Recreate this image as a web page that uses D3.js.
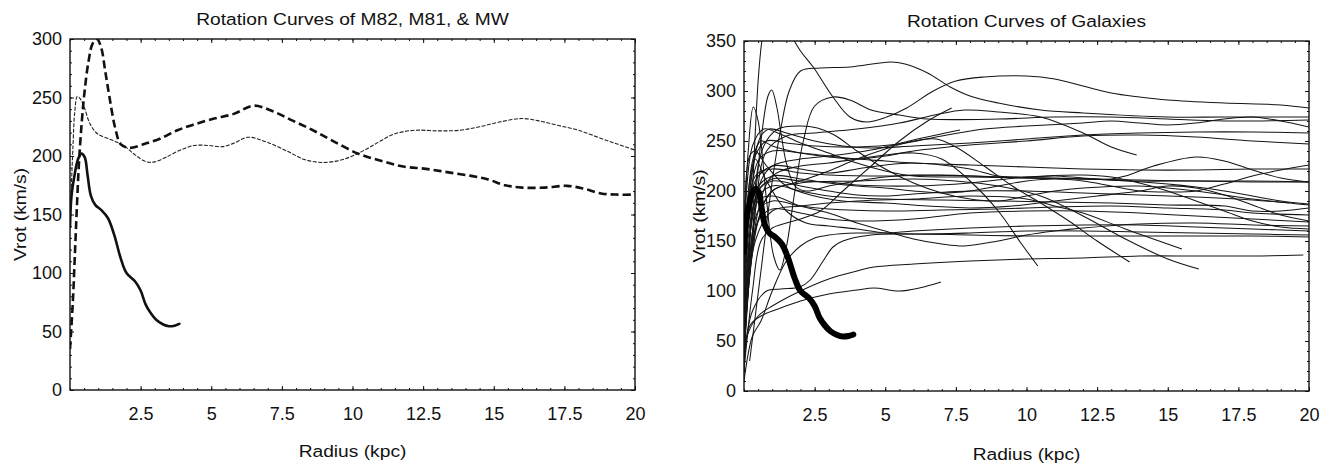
<!DOCTYPE html>
<html>
<head>
<meta charset="utf-8">
<script src="https://cdn.jsdelivr.net/npm/d3@7"></script>
<style>
  body { margin: 0; background: #fff; }
  svg { display: block; }
</style>
</head>
<body>
<svg id="chart"></svg>
<script>
// every point is [radius (kpc), Vrot (km/s)]
const m82 = [[0,139],[0.05,165],[0.15,182],[0.28,197],[0.4,202],[0.52,199],[0.62,184],[0.74,166],[0.9,158],[1.1,154],[1.34,147],[1.56,133],[1.79,113],[2.0,100],[2.3,93],[2.5,85],[2.68,73],[2.85,66],[3.05,60],[3.3,56],[3.5,54.5],[3.7,55],[3.87,56.5]];
const m81 = [[0,35],[0.1,75],[0.18,120],[0.25,160],[0.32,195],[0.42,230],[0.52,256],[0.65,280],[0.8,296],[0.95,300],[1.1,293],[1.25,272],[1.4,250],[1.6,224],[1.8,210],[2.1,207],[2.6,210],[3.2,215],[3.8,222],[4.4,227],[5.1,232],[5.8,236],[6.5,243],[7.2,238],[7.9,230],[8.6,222],[9.3,213],[10.2,202],[11.0,196],[11.8,191],[12.6,189],[13.4,186],[14.2,183],[14.8,180],[15.4,175],[16.0,173],[16.8,173],[17.6,174.5],[18.2,172],[18.8,168],[19.4,167],[20,167]];
const milkyWay = [[0,140],[0.05,175],[0.1,205],[0.17,238],[0.26,251],[0.36,249],[0.5,242],[0.7,228],[0.97,219],[1.44,214],[1.9,209],[2.3,201],[2.7,195],[3.0,195],[3.4,199],[3.9,205],[4.4,209],[4.9,209],[5.4,208],[5.8,211],[6.3,216],[6.95,212],[7.7,204],[8.3,197],[8.9,194.5],[9.5,196],[10.0,200],[10.5,206],[11.0,213],[11.5,219],[12.2,222],[13,221.5],[13.8,222],[14.5,225],[15.2,229],[16.0,232],[16.6,230],[17.3,226],[18,222],[18.8,215],[19.4,210],[20,205]];

// other galaxies (right panel)
const g01 = [[0.05,60],[0.3,200],[0.5,310],[0.63,350],[0.8,380],[1.2,390],[1.6,360],[2.0,340],[2.45,324],[3.15,294],[3.75,274],[4.34,269],[5.05,274],[5.76,283],[6.7,300],[7.5,310],[8.5,314],[10,315],[11,312],[12,305],[13,298],[14,294],[15,291],[17,288],[19,286],[20,283]];
const g02 = [[0.2,30],[0.6,120],[1.0,210],[1.3,262],[1.6,300],[2.0,320],[2.7,323],[3.75,324],[5.2,329],[5.7,327],[6.5,318],[7.3,304],[8,295],[9,288],[10.5,281],[12,278],[15,274],[17,274],[20,274]];
const g03 = [[0,150],[0.15,240],[0.33,284],[0.5,270],[0.8,190],[1.05,135],[1.27,121],[1.5,144],[1.8,200],[2.1,250],[2.5,285],[3.15,294],[3.75,291],[4.5,281],[5.5,276],[6.5,272],[9,272],[11,274],[13,274],[15,272],[17,270],[20,271]];
const g04 = [[0,80],[0.3,160],[0.6,250],[0.85,295],[0.98,301],[1.16,284],[1.33,254],[1.5,228],[1.8,205],[2.2,200],[3,205],[4,210],[5,214],[6,216],[8,215],[10,213],[12,212],[14,210],[16,210],[18,209],[20,209]];
const g05 = [[0,20],[0.3,100],[0.6,150],[1.0,163],[1.5,168],[2.0,172],[2.7,180],[3.5,200],[4.5,225],[5.5,250],[6.5,270],[7.35,283]];
const g06 = [[0,30],[0.3,150],[0.6,210],[1.0,225],[2,232],[3,235],[4.5,241],[6,251],[7.65,261]];
const g07 = [[0,40],[0.4,180],[0.8,240],[1.5,255],[2.5,258],[4,262],[5.5,268],[6.75,276],[7.8,281],[9,279],[10.5,274],[12,258],[13,244],[13.9,236]];
const g08 = [[0,60],[0.3,180],[0.7,245],[1.2,262],[2.0,265],[2.6,263],[3.2,256],[4,240],[5,222],[6,208],[7,198],[8,192],[9,190],[10,195],[11,200],[12,203],[14,205],[16,200],[18,192],[20,186]];
const g09 = [[0,100],[0.3,220],[0.6,255],[0.9,262],[1.5,258],[2.5,250],[3.5,245],[4.5,243],[6,245],[8,248],[10,252],[12,256],[14,258],[16,259],[18,259],[20,258]];
const g10 = [[0,50],[0.5,170],[1,200],[2,210],[3,220],[4,232],[5,242],[6,250],[6.8,252],[7.5,244],[8.5,225],[9.5,205],[10.5,188],[11.5,170],[12.5,150],[13.65,129]];
const g11 = [[0,40],[0.5,180],[1,215],[2,225],[3,228],[4,232],[5,236],[6,238],[7,232],[8,210],[9,180],[9.8,148],[10.4,125]];
const g12 = [[0,30],[0.4,160],[1,200],[2,208],[4,210],[6,212],[7.5,210],[9,205],[10.5,195],[12,175],[13.5,152],[15,132],[16.1,122]];
const g13 = [[0,40],[0.4,150],[1,180],[2,185],[4,190],[6,192],[8,195],[10,192],[11,185],[12,178],[13.5,162],[15.5,142]];
const g15 = [[0,15],[0.1,54],[0.5,75],[1,85],[2,100],[3,112],[4,120],[4.6,124],[6,127],[8,130],[10,132],[12,133],[14,135],[16,135],[18,135],[19.8,136]];
const g16 = [[0,20],[0.2,65],[0.6,75],[1.2,82],[2,90],[3,97],[4,101],[4.6,103],[5.5,100],[6.2,103],[6.97,109]];
const g17 = [[0,30],[0.3,80],[0.8,100],[1.3,102],[1.98,104],[2.34,111],[2.8,130],[3.15,144],[3.5,150],[4.5,156],[6,157],[8,156],[10,155],[12,155],[14,155],[16,155],[18,155],[20,154]];
const g18 = [[0,60],[0.5,190],[1,195],[2,185],[3,178],[4,168],[5,160],[6,152],[7,147],[7.8,145],[9,150],[10,156],[11,160],[12,163],[14,167],[16,168],[18,166],[20,165]];
const g19 = [[0,10],[0.3,55],[0.6,70],[1,100],[1.5,130],[2,145],[2.5,153],[3,156],[4,158],[5,158],[6,160],[8,163],[10,165],[12,166],[14,166],[16,164],[18,162],[20,160]];
const g20 = [[0,80],[0.4,210],[1,225],[2,222],[3,218],[4,222],[5,226],[6,228],[7,226],[8,222],[9,215],[10,214],[11,215],[12,213],[13,212],[13.5,215],[14.5,225],[16,234],[17,230],[18,221],[19,213],[20,209]];
const g21 = [[0,60],[0.4,200],[1,215],[2,212],[3,208],[4,205],[5,203],[6,200],[7,198],[8,200],[9,205],[10,210],[11,212],[12,210],[13,205],[14,200],[15,199],[16,200],[17,207],[18,215],[19,221],[20,226]];
const g22 = [[0,100],[0.5,230],[1,240],[2,238],[3,235],[4,232],[5,230],[6,228],[8,226],[10,224],[12,222],[14,221],[16,221],[18,222],[20,222]];
const g23 = [[0,70],[0.4,215],[1,222],[2,218],[3,216],[5,215],[7,216],[9,214],[11,213],[13,211],[15,207],[16,204],[17,200],[18,195],[19,190],[20,187]];
const g24 = [[0,50],[0.4,190],[1,205],[2,200],[3,195],[5,192],[7,191],[9,190],[11,189],[13,188],[15,186],[17,185],[18,180],[19,180],[20,183]];
const g25 = [[0,40],[0.5,180],[1,190],[2,185],[3,182],[5,180],[7,181],[9,182],[11,184],[13,185],[15,183],[17,181],[18,178],[20,176]];
const g26 = [[0,30],[0.5,170],[1,182],[2,178],[3,172],[4,170],[6,172],[8,178],[10,180],[12,180],[14,178],[16,175],[18,172],[20,169]];
const g27 = [[0,60],[0.5,200],[1,210],[2,205],[3,200],[4,196],[5,195],[6,197],[8,200],[10,200],[12,198],[14,196],[16,194],[18,191],[19.3,188]];
const g28 = [[0,120],[0.3,230],[0.6,250],[1,245],[2,238],[3,234],[4,232],[5,235],[6,240],[8,246],[10,250],[12,255],[14,256],[16,254],[18,250],[20,247]];
const g29 = [[0,90],[0.4,235],[0.8,250],[1.5,248],[2.5,245],[4,244],[5.5,247],[7,255],[8.5,262],[10,265],[12,268],[13,270],[14,268],[15,266],[16,268],[17,272],[18,274],[19,270],[20,264]];
const g30 = [[0,40],[0.5,200],[1,212],[2,210],[3,209],[4,206],[6,205],[8,208],[10,214],[12,216],[13,214],[14,208],[15,200],[16,190],[17,180],[18,170],[19,164],[20,162]];
const g31 = [[0,140],[0.3,245],[0.7,262],[1.2,258],[2,248],[3,238],[4,228],[5,220],[6,215],[8,214],[10,213],[12,212],[14,211],[16,210],[18,210],[20,209]];
const g32 = [[0,100],[0.2,210],[0.4,232],[0.8,210],[1.5,180],[2.2,168],[3,165],[4,162],[5,158],[6,157],[8,158],[10,160],[12,160],[14,159],[16,158],[18,157],[20,156]];
const g33 = [[0,150],[0.2,235],[0.4,240],[0.8,225],[1.5,205],[2.5,195],[3.5,190],[5,188],[6.5,185],[8,183],[9.5,185],[11,190],[12.5,195],[14,200],[15,205],[16,203],[17,196],[18,186],[19,176],[20,170]];
const galaxies = [g01, g02, g03, g04, g05, g06, g07, g08, g09, g10, g11, g12, g13, g15, g16, g17, g18, g19, g20, g21, g22, g23, g24, g25, g26, g27, g28, g29, g30, g31, g32, g33];

const xTicks = [2.5, 5, 7.5, 10, 12.5, 15, 17.5, 20];
const yTicksLeft = [0, 50, 100, 150, 200, 250, 300];
const yTicksRight = [0, 50, 100, 150, 200, 250, 300, 350];

const width = 1323;
const height = 463;
const font = "'Liberation Sans', Arial, sans-serif";
const stretch = 1.13; // the scanned text runs a bit wide

const svg = d3.select("#chart").attr("width", width).attr("height", height);

function label(g, x, y, rot, size, txt) {
  g.append("text")
    .attr("transform", "translate(" + x + "," + y + ")" + (rot ? " rotate(-90)" : "") + " scale(" + stretch + ",1)")
    .attr("text-anchor", "middle")
    .attr("font-family", font)
    .attr("font-size", size)
    .attr("fill", "#111")
    .text(txt);
}

function panel(id, box, yMax, yTicks, title, labelY, labelGap) {
  const x = d3.scaleLinear().domain([0, 20]).range([box.left, box.right]);
  const y = d3.scaleLinear().domain([0, yMax]).range([box.bottom, box.top]);
  const g = svg.append("g").attr("id", id);

  g.append("clipPath")
    .attr("id", id + "-clip")
    .append("rect")
    .attr("x", box.left)
    .attr("y", box.top)
    .attr("width", box.right - box.left)
    .attr("height", box.bottom - box.top);

  const xMinor = d3.range(0, 20.001, 0.5);
  const yMinor = d3.range(0, yMax + 0.001, 10);

  // minor ticks on all four sides, pointing in
  const minor = [
    [d3.axisBottom(x).tickValues(xMinor), box.bottom, "x"],
    [d3.axisTop(x).tickValues(xMinor), box.top, "x"],
    [d3.axisLeft(y).tickValues(yMinor), box.left, "y"],
    [d3.axisRight(y).tickValues(yMinor), box.right, "y"],
  ];
  minor.forEach(([ax, pos, dir]) => {
    const a = g.append("g")
      .attr("transform", dir == "x" ? "translate(0," + pos + ")" : "translate(" + pos + ",0)")
      .call(ax.tickSize(-2).tickFormat(""));
    a.select(".domain").remove();
  });
  const major = [
    [d3.axisTop(x).tickValues(xTicks), box.top, "x"],
    [d3.axisRight(y).tickValues(yTicks), box.right, "y"],
  ];
  major.forEach(([ax, pos, dir]) => {
    const a = g.append("g")
      .attr("transform", dir == "x" ? "translate(0," + pos + ")" : "translate(" + pos + ",0)")
      .call(ax.tickSize(-4).tickFormat(""));
    a.select(".domain").remove();
  });

  const xAxis = g.append("g")
    .attr("transform", "translate(0," + box.bottom + ")")
    .call(d3.axisBottom(x).tickValues(xTicks).tickSize(-4).tickPadding(17).tickFormat(d3.format("")));
  xAxis.select(".domain").remove();

  const yAxis = g.append("g")
    .attr("transform", "translate(" + box.left + ",0)")
    .call(d3.axisLeft(y).tickValues(yTicks).tickSize(-4).tickPadding(8));
  yAxis.select(".domain").remove();

  [xAxis, yAxis].forEach((a) => {
    a.attr("font-family", font).attr("font-size", 18);
    a.selectAll("text").attr("fill", "#111");
  });
  g.selectAll("line").attr("stroke", "#111");

  g.append("rect")
    .attr("x", box.left)
    .attr("y", box.top)
    .attr("width", box.right - box.left)
    .attr("height", box.bottom - box.top)
    .attr("fill", "none")
    .attr("stroke", "#111")
    .attr("stroke-width", 1.4);

  const cx = (box.left + box.right) / 2;
  label(g, cx, box.top - 14, false, 17, title);
  label(g, cx, labelY, false, 17, "Radius (kpc)");
  label(g, box.left - labelGap, (box.top + box.bottom) / 2, true, 17, "Vrot (km/s)");

  const line = d3.line()
    .x((d) => x(d[0]))
    .y((d) => y(d[1]))
    .curve(d3.curveCatmullRom.alpha(0.5));

  const plot = g.append("g").attr("clip-path", "url(#" + id + "-clip)");
  return { plot, line };
}

// left: M82, M81 and Milky Way
const left = panel("left", { left: 70, right: 635, top: 39, bottom: 390 }, 300, yTicksLeft,
  "Rotation Curves of M82, M81, & MW", 457, 44);

left.plot.append("path")
  .datum(milkyWay)
  .attr("d", left.line)
  .attr("fill", "none")
  .attr("stroke", "#222")
  .attr("stroke-width", 1.1)
  .attr("stroke-dasharray", "4,1.5");

left.plot.append("path")
  .datum(m81)
  .attr("d", left.line)
  .attr("fill", "none")
  .attr("stroke", "#111")
  .attr("stroke-width", 2.6)
  .attr("stroke-dasharray", "8,4");

left.plot.append("path")
  .datum(m82)
  .attr("d", left.line)
  .attr("fill", "none")
  .attr("stroke", "#111")
  .attr("stroke-width", 2.6)
  .attr("stroke-linecap", "round");

// right: all galaxies, M82 drawn heavy
const right = panel("right", { left: 744, right: 1309, top: 41, bottom: 391 }, 350, yTicksRight,
  "Rotation Curves of Galaxies", 460, 39);

right.plot.selectAll("path.gal")
  .data(galaxies)
  .enter()
  .append("path")
  .attr("class", "gal")
  .attr("d", right.line)
  .attr("fill", "none")
  .attr("stroke", "#151515")
  .attr("stroke-width", 1.05);

right.plot.append("path")
  .datum(m82)
  .attr("d", right.line)
  .attr("fill", "none")
  .attr("stroke", "#000")
  .attr("stroke-width", 6)
  .attr("stroke-linecap", "round")
  .attr("stroke-linejoin", "round");
</script>
</body>
</html>
